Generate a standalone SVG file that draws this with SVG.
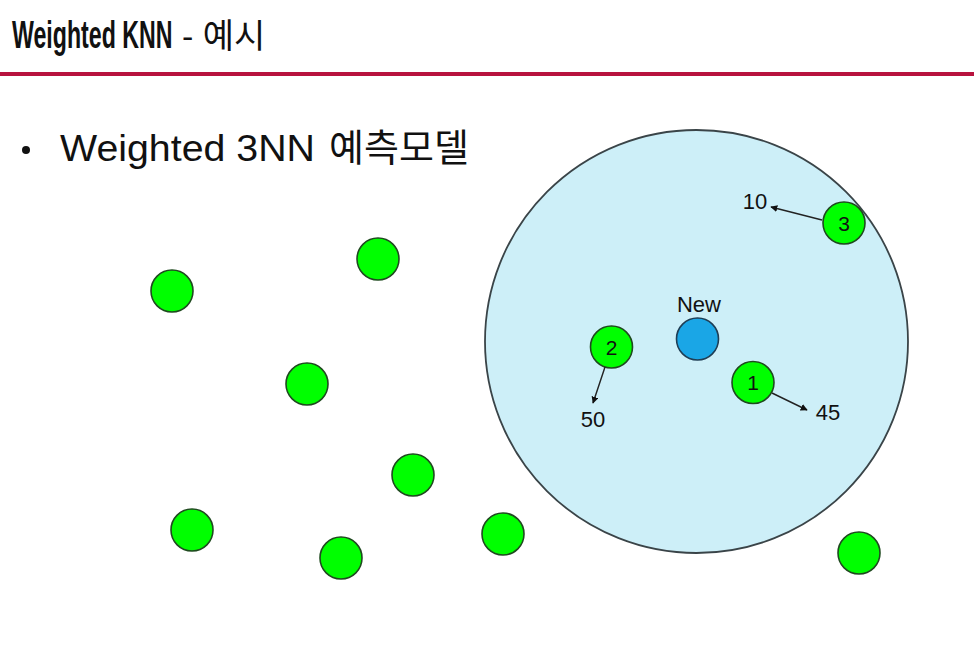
<svg xmlns="http://www.w3.org/2000/svg" width="974" height="671" viewBox="0 0 974 671">
<defs>
<style>
.pt{fill:#00FF00;stroke:#1F4A1F;stroke-width:1.6}
.lbl{font-family:"Liberation Sans","Noto Sans CJK KR",sans-serif;fill:#111}
.num{font-family:"Liberation Sans",sans-serif;font-size:21px;fill:#111;text-anchor:middle}
.conn{stroke:#222;stroke-width:1.4;fill:none;marker-end:url(#ah)}
</style>
<marker id="ah" viewBox="0 0 10 10" refX="9" refY="5" markerWidth="7" markerHeight="7" orient="auto" markerUnits="userSpaceOnUse">
<path d="M0,0 L10,5 L0,10 z" fill="#111"/>
</marker>
</defs>
<rect width="974" height="671" fill="#FFFFFF"/>
<g id="title">
<text transform="translate(12,48) scale(0.61,1)" x="0" y="0" class="lbl" font-size="38" font-weight="bold">Weighted KNN</text>
<text x="182" y="48" class="lbl" font-size="34">- 예시</text>
</g>
<rect x="0" y="72" width="974" height="4" fill="#B8123E"/>
<g id="bullet">
<circle cx="26" cy="150" r="4" fill="#111"/>
<text x="60" y="161" class="lbl" font-size="37"><tspan textLength="255" lengthAdjust="spacingAndGlyphs">Weighted 3NN</tspan><tspan x="329" font-size="38">예측모델</tspan></text>
</g>
<g id="region">
<circle cx="696.5" cy="341.5" r="211.5" fill="#CDEFF8" stroke="#3A4448" stroke-width="1.8"/>
</g>
<g id="p1"><circle class="pt" cx="172" cy="291" r="21"/></g>
<g id="p2"><circle class="pt" cx="378" cy="259" r="21"/></g>
<g id="p3"><circle class="pt" cx="307" cy="384" r="21"/></g>
<g id="p4"><circle class="pt" cx="413" cy="475" r="21"/></g>
<g id="p5"><circle class="pt" cx="192" cy="530" r="21"/></g>
<g id="p6"><circle class="pt" cx="341" cy="558" r="21"/></g>
<g id="p7"><circle class="pt" cx="503" cy="534" r="21"/></g>
<g id="p8"><circle class="pt" cx="859" cy="553" r="21"/></g>
<g id="new">
<circle cx="697.5" cy="339" r="21" fill="#1AA6E6" stroke="#1F3E55" stroke-width="1.6"/>
<text x="699" y="312" class="lbl" font-size="22" text-anchor="middle">New</text>
</g>
<g id="n1"><circle class="pt" cx="753" cy="382.5" r="21"/><text x="753" y="390" class="num">1</text></g>
<g id="n2"><circle class="pt" cx="611.5" cy="347" r="21"/><text x="611.5" y="355" class="num">2</text></g>
<g id="n3"><circle class="pt" cx="844" cy="223" r="21"/><text x="844" y="231" class="num">3</text></g>
<g id="connectors">
<line class="conn" x1="605" y1="367" x2="593" y2="403"/>
<line class="conn" x1="772" y1="393" x2="807" y2="410"/>
<line class="conn" x1="822" y1="220" x2="771" y2="207"/>
</g>
<g id="values">
<text x="755" y="209" class="lbl" font-size="22" text-anchor="middle">10</text>
<text x="593" y="427" class="lbl" font-size="22" text-anchor="middle">50</text>
<text x="828" y="420" class="lbl" font-size="22" text-anchor="middle">45</text>
</g>
</svg>
